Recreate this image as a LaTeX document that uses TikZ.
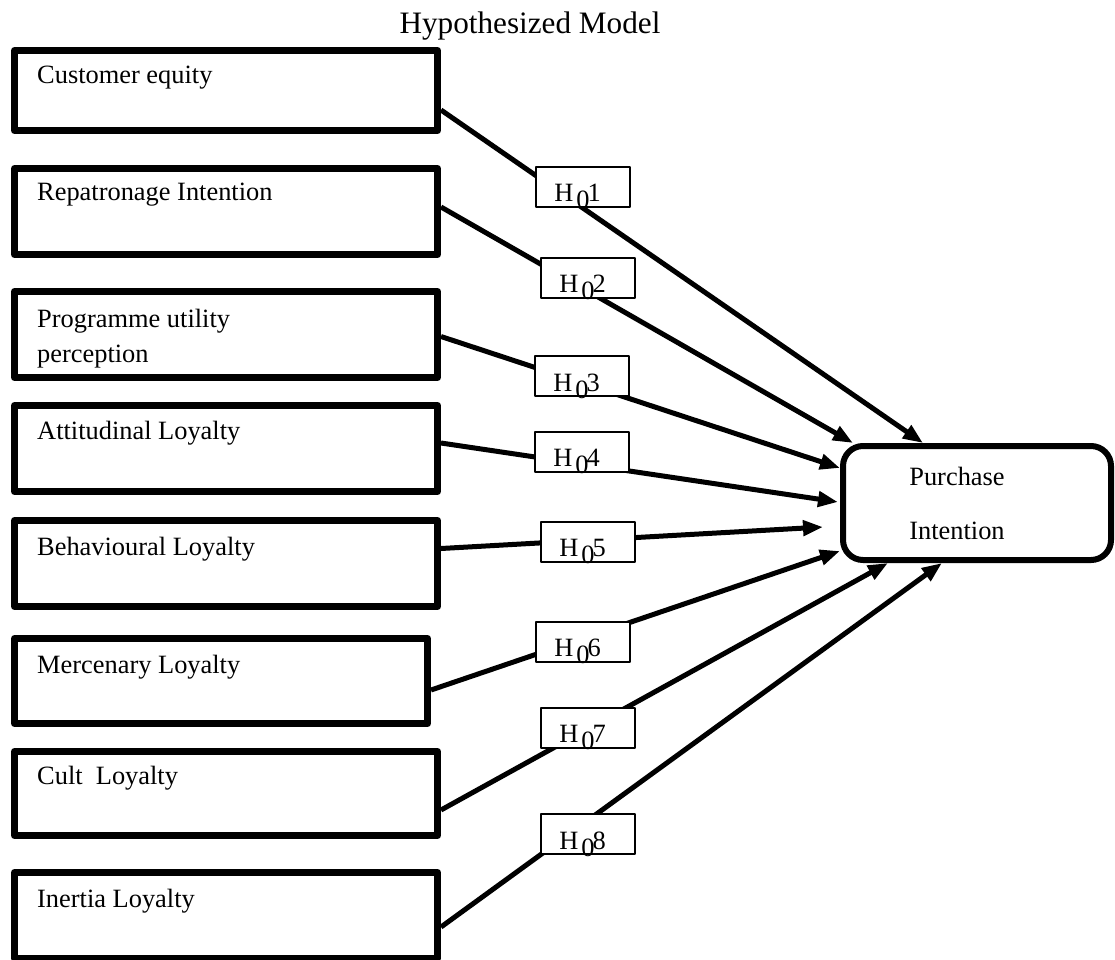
\documentclass[tikz,border=0pt]{standalone}
\usepackage{fontspec}
\setmainfont{Liberation Serif}
\usetikzlibrary{arrows.meta,calc}

% H with a dropped 0 and the hypothesis number
\newcommand{\hzero}[1]{\raisebox{-15pt}[0pt][0pt]{H\kern3pt\raisebox{-7pt}{0}\kern-2pt#1\kern10pt}}

\begin{document}
\begin{tikzpicture}[x=1pt,y=-1pt, line join=round,
  font=\fontsize{26.4}{35}\selectfont,
  factor/.style={draw, line width=7pt, anchor=north west, inner sep=0pt, minimum width=423pt, minimum height=86pt},
  factortext/.style={anchor=base west, inner sep=0pt, align=left},
  hyp/.style={draw, fill=white, line width=2pt, inner sep=0pt, minimum width=94pt, minimum height=40pt},
  link/.style={line width=5pt, -{Triangle[length=20pt,width=15pt]}}]
\useasboundingbox (0,0) rectangle (1115,959);
\node[anchor=base] (title) at (530,33) {\fontsize{31.2}{36}\selectfont Hypothesized Model};
% independent variables
\node[factor, minimum height=80pt] (ce) at (11,47)  {};
\node[factor] (ri) at (11,165) {};
\node[factor] (pu) at (11,288) {};
\node[factor] (al) at (11,402) {};
\node[factor] (bl) at (11,517) {};
\node[factor, minimum width=413pt, minimum height=85pt] (ml) at (11,635) {};
\node[factor, minimum height=84pt] (cl) at (11,748) {};
\node[factor] (il) at (11,869) {};
\node[factortext] (ce-t) at ($(ce.north west)+(26,36)$) {Customer equity};
\node[factortext] (ri-t) at ($(ri.north west)+(26,35)$) {Repatronage Intention};
\node[factortext] (pu-t) at ($(pu.north west)+(26,74)$) {Programme utility\\perception};
\node[factortext] (al-t) at ($(al.north west)+(26,37)$) {Attitudinal Loyalty};
\node[factortext] (bl-t) at ($(bl.north west)+(26,38)$) {Behavioural Loyalty};
\node[factortext] (ml-t) at ($(ml.north west)+(26,38)$) {Mercenary Loyalty};
\node[factortext] (cl-t) at ($(cl.north west)+(26,36)$) {Cult\ \ Loyalty};
\node[factortext] (il-t) at ($(il.north west)+(26,38)$) {Inertia Loyalty};
% dependent variable
\node[draw, line width=6pt, rounded corners=20pt, minimum width=268pt, minimum height=114pt, inner sep=0pt,
  align=left, font=\fontsize{26.4}{54}\selectfont] (pi) at (977,503) {Purchase\kern40pt\\Intention\kern40pt};
% hypothesised paths
\draw[link] ($(ce.east)+(0,19.5)$) -- ($(pi.north)+(-54,0)$);
\draw[link] ($(ri.east)+(0,-4.5)$) -- ($(pi.north west)+(13,0)$);
\draw[link] ($(pu.east)+(0,2)$)    -- ($(pi.west)+(0,-35)$);
\draw[link] ($(al.east)+(0,-5.5)$) -- ($(pi.west)+(-2,-1)$);
\draw[link] ($(bl.east)+(0,-15)$)  -- ($(pi.west)+(-17,24)$);
\draw[link] ($(ml.east)+(0,9)$)    -- ($(pi.west)+(0,48)$);
\draw[link] ($(cl.east)+(0,16.5)$) -- ($(pi.south)+(-89,0)$);
\draw[link] ($(il.east)+(0,11.5)$) -- ($(pi.south)+(-35,0)$);
% hypothesis labels on top of the paths
\node[hyp] (h1) at (582.5,186.5) {\hzero{1}};
\node[hyp] (h2) at (587.5,277.5) {\hzero{2}};
\node[hyp] (h3) at (581.5,376)   {\hzero{3}};
\node[hyp] (h4) at (581.5,451.5) {\hzero{4}};
\node[hyp] (h5) at (587.5,541.5) {\hzero{5}};
\node[hyp] (h6) at (582.5,641.5) {\hzero{6}};
\node[hyp] (h7) at (587.5,727.5) {\hzero{7}};
\node[hyp] (h8) at (587.5,834)   {\hzero{8}};
\end{tikzpicture}
\end{document}
